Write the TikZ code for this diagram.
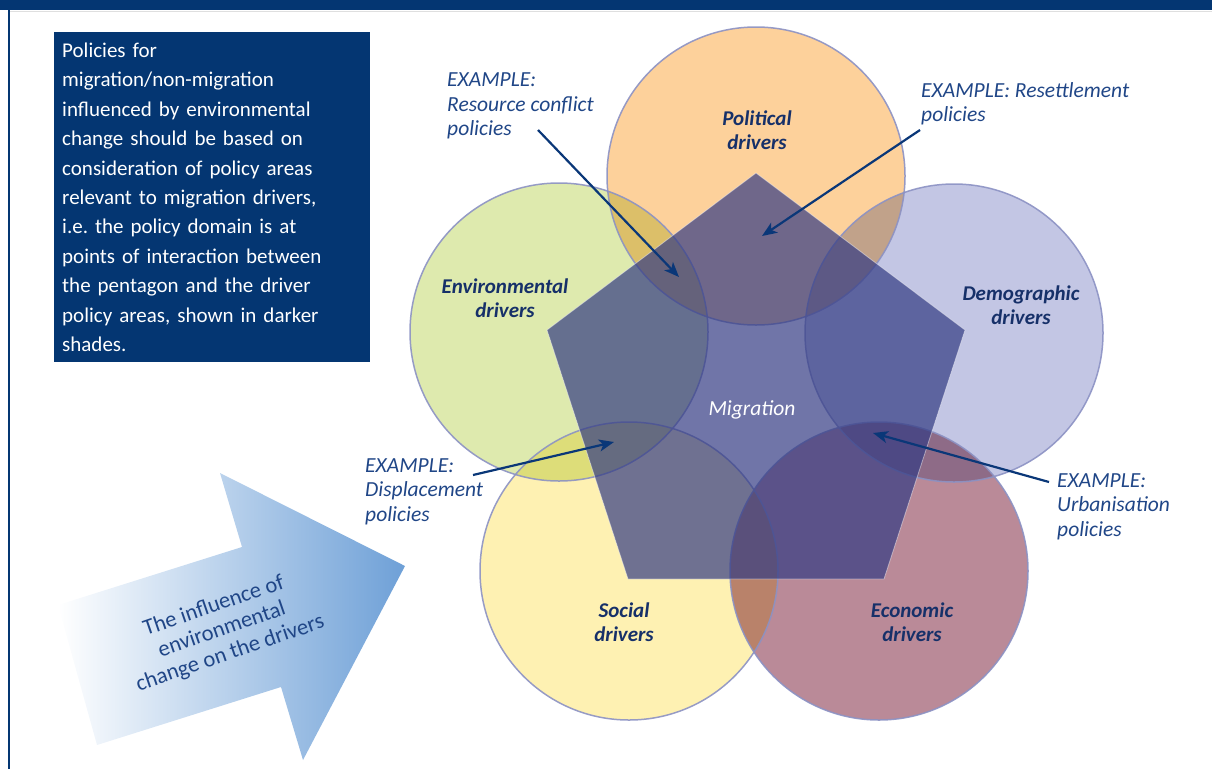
\documentclass[tikz,border=0pt]{standalone}
\usepackage{fontspec}
\setmainfont{Carlito}
\usepackage{xcolor}
\usetikzlibrary{arrows.meta, calc}

\definecolor{navy}{RGB}{4,54,114}
\definecolor{ring}{RGB}{140,146,196}
\definecolor{polfill}{RGB}{253,209,155}
\definecolor{envfill}{RGB}{222,234,174}
\definecolor{demfill}{RGB}{195,198,228}
\definecolor{socfill}{RGB}{254,241,178}
\definecolor{ecofill}{RGB}{186,138,152}
\definecolor{pentfill}{RGB}{51,59,131}
\definecolor{labelblue}{RGB}{22,48,105}
\definecolor{exblue}{RGB}{32,70,135}
\definecolor{pointblue}{RGB}{10,55,120}
\definecolor{shaftblue}{RGB}{110,160,215}

\begin{document}
\begin{tikzpicture}[
    x=1pt, y=-1pt,
    font=\fontsize{20}{24}\selectfont,
    driver/.style={circle, minimum size=298pt, inner sep=0pt},
    rim/.style={draw=ring, draw opacity=0.9, line width=1.5pt},
    drvlabel/.style={font=\fontsize{21}{24}\selectfont\bfseries\itshape, text=labelblue, align=center},
    example/.style={font=\fontsize{21.5}{24.5}\selectfont\itshape, text=exblue, align=left,
        anchor=north west, inner sep=0pt},
    pointer/.style={-{Stealth[length=15pt, width=12pt, inset=4pt]}, draw=pointblue, line width=2.2pt},
    infobox/.style={fill=navy, text=white, anchor=north west, align=left,
        minimum width=316pt, minimum height=330pt, text width=300pt, inner xsep=8pt,
        font=\fontsize{21}{29.4}\selectfont},
]
\useasboundingbox (0,0) rectangle (1212,769);

% frame
\fill[navy] (0,0) rectangle (1212,10);
\draw[gray!25, line width=1pt] (10,11) -- (1212,11);
\draw[navy, line width=2.5pt] (9,10) -- (9,769);

% influence arrow
\shade[left color=white, right color=shaftblue]
    (58,605) -- (242,547) -- (220,473) -- (405,566) -- (303,760) -- (281,687) -- (97,745) -- cycle;
\node[rotate=19, align=center, text=exblue, font=\fontsize{22.5}{25}\selectfont] (influence) at (222,630)
    {The influence of\\environmental\\change on the drivers};

% driver circles
\begin{scope}[blend mode=multiply]
\foreach \name/\cx/\cy/\col in {pol/756/176/polfill, env/559/332/envfill, dem/954/333/demfill,
                               soc/629/571/socfill, eco/879/571/ecofill}
    \node[driver, fill=\col] (\name) at (\cx,\cy) {};
\end{scope}
\foreach \name in {pol, env, dem, soc, eco}
    \draw[rim] (\name.center) circle[radius=149pt];

% migration pentagon
\fill[pentfill, fill opacity=0.7, draw=white, draw opacity=0.45, line width=0.8pt]
    (756,173) -- (965,330) -- (884,579) -- (628,579) -- (547,330) -- cycle;

\node[drvlabel] (poltext) at (757,130) {Political\\drivers};
\node[drvlabel] (envtext) at (505,298) {Environmental\\drivers};
\node[drvlabel] (demtext) at (1021,305) {Demographic\\drivers};
\node[drvlabel] (soctext) at (624,622) {Social\\drivers};
\node[drvlabel] (ecotext) at (912,622) {Economic\\drivers};
\node[font=\fontsize{21.5}{24}\selectfont\itshape, text=white] (migration) at (752,410) {Migration};

% intro text
\node[infobox] (intro) at (54,32) {Policies for\\migration/non-migration\\influenced by environmental\\change should be based on\\consideration of policy areas\\relevant to migration drivers,\\i.e.\ the policy domain is at\\points of interaction between\\the pentagon and the driver\\policy areas, shown in darker\\shades.};

% examples
\node[example] (exconflict) at (447,73) {EXAMPLE:\\Resource conflict\\policies};
\node[example] (exresettle) at (921,82) {EXAMPLE: Resettlement\\policies};
\node[example] (exdisplace) at (365,458) {EXAMPLE:\\Displacement\\policies};
\node[example] (exurban) at (1057,473) {EXAMPLE:\\Urbanisation\\policies};

\coordinate (conflictfrom) at (538,130);
\coordinate (conflictto) at (679,277);
\coordinate (resettlefrom) at (920,130);
\coordinate (resettleto) at (762,236);
\coordinate (displacefrom) at (473,475);
\coordinate (displaceto) at (614,442);
\coordinate (urbanfrom) at (1049,482);
\coordinate (urbanto) at (873,433);

\draw[pointer] (conflictfrom) -- (conflictto);
\draw[pointer] (resettlefrom) -- (resettleto);
\draw[pointer] (displacefrom) -- (displaceto);
\draw[pointer] (urbanfrom) -- (urbanto);

\end{tikzpicture}
\end{document}
